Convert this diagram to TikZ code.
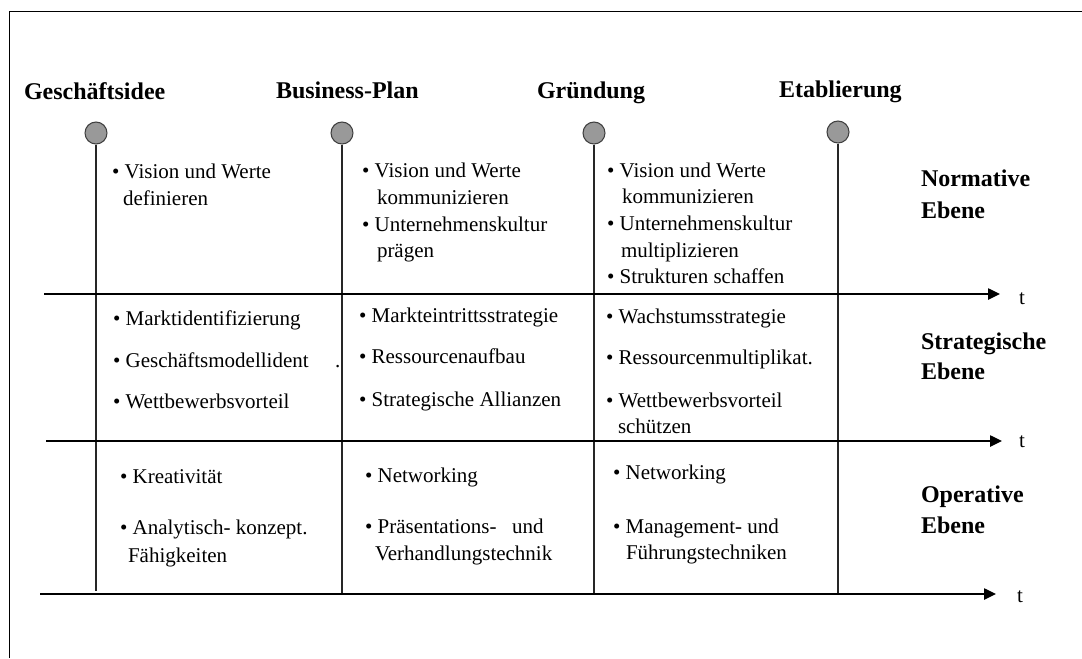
\documentclass[tikz,border=0pt]{standalone}
\usepackage{fontspec}
\setmainfont{Liberation Serif}
\usetikzlibrary{arrows.meta}
\begin{document}
\begin{tikzpicture}[x=0.75pt,y=-0.75pt,
  txt/.style={anchor=base west,inner sep=0pt,outer sep=0pt,font=\fontsize{15.75}{18}\selectfont},
  head/.style={anchor=base west,inner sep=0pt,outer sep=0pt,font=\fontsize{18}{21}\selectfont\bfseries},
  milestone/.style={circle,draw=black!75,fill=black!40,line width=0.8pt,minimum size=16.5pt,inner sep=0pt},
  phase/.style={draw=black!85,line width=0.8pt},
  axis/.style={draw=black,line width=1.1pt,-{Triangle[length=9pt,width=8.5pt]}},
  frame/.style={draw=black,line width=0.75pt}]

\useasboundingbox (0,0) rectangle (1082,658);

% outer frame (top and left edges)
\coordinate (fTL) at (9,11);
\coordinate (fTR) at (1082,11);
\coordinate (fBL) at (9,658);
\draw[frame] (fBL) -- (fTL) -- (fTR);

% milestones
\node[head] (h1) at (24,99) {Geschäftsidee};
\node[head] (h2) at (276,98) {Business-Plan};
\node[head] (h3) at (537,98) {Gründung};
\node[head] (h4) at (779,97) {Etablierung};

\node[milestone] (m1) at (96,133) {};
\node[milestone] (m2) at (342,133) {};
\node[milestone] (m3) at (594,133) {};
\node[milestone] (m4) at (838,132) {};

\coordinate (e1) at (96,591);
\coordinate (e2) at (342,594);
\coordinate (e3) at (594,594);
\coordinate (e4) at (838,594);
\draw[phase] (m1.south) -- (e1);
\draw[phase] (m2.south) -- (e2);
\draw[phase] (m3.south) -- (e3);
\draw[phase] (m4.south) -- (e4);

% time axes
\coordinate (a1s) at (44,294);  \coordinate (a1e) at (1000,294);
\coordinate (a2s) at (46,441);  \coordinate (a2e) at (1002,441);
\coordinate (a3s) at (40,594);  \coordinate (a3e) at (996,594);
\draw[axis] (a1s) -- (a1e);
\draw[axis] (a2s) -- (a2e);
\draw[axis] (a3s) -- (a3e);
\node[txt] (t1) at (1019,304) {t};
\node[txt] (t2) at (1019,447) {t};
\node[txt] (t3) at (1017,602) {t};

% level labels
\node[head] (l1a) at (921,186) {Normative};
\node[head] (l1b) at (921,218) {Ebene};
\node[head] (l2a) at (921,349) {Strategische};
\node[head] (l2b) at (921,379) {Ebene};
\node[head] (l3a) at (921,502) {Operative};
\node[head] (l3b) at (921,533) {Ebene};

% normative level
\node[txt] (n1a) at (112,178) {• Vision und Werte};
\node[txt] (n1b) at (123,205) {definieren};

\node[txt] (n2a) at (362,177) {• Vision und Werte};
\node[txt] (n2b) at (377,204) {kommunizieren};
\node[txt] (n2c) at (362,231) {• Unternehmenskultur};
\node[txt] (n2d) at (377,257) {prägen};

\node[txt] (n3a) at (607,177) {• Vision und Werte};
\node[txt] (n3b) at (622,203) {kommunizieren};
\node[txt] (n3c) at (607,230) {• Unternehmenskultur};
\node[txt] (n3d) at (621,257) {multiplizieren};
\node[txt] (n3e) at (607,283) {• Strukturen schaffen};

% strategic level
\node[txt] (s1a) at (113,325) {• Marktidentifizierung};
\node[txt] (s1b) at (113,367) {• Geschäftsmodellident};
\node[txt] (s1d) at (335,367) {.};
\node[txt] (s1c) at (113,408) {• Wettbewerbsvorteil};

\node[txt] (s2a) at (359,322) {• Markteintrittsstrategie};
\node[txt] (s2b) at (359,363) {• Ressourcenaufbau};
\node[txt] (s2c) at (359,406) {• Strategische Allianzen};

\node[txt] (s3a) at (606,323) {• Wachstumsstrategie};
\node[txt] (s3b) at (606,364) {• Ressourcenmultiplikat.};
\node[txt] (s3c) at (606,407) {• Wettbewerbsvorteil};
\node[txt] (s3d) at (618,433) {schützen};

% operative level
\node[txt] (o1a) at (120,483) {• Kreativität};
\node[txt] (o1b) at (120,534) {• Analytisch- konzept.};
\node[txt] (o1c) at (128,562) {Fähigkeiten};

\node[txt] (o2a) at (365,482) {• Networking};
\node[txt] (o2b) at (365,533) {• Präsentations-};
\node[txt] (o2d) at (512,533) {und};
\node[txt] (o2c) at (375,560) {Verhandlungstechnik};

\node[txt] (o3a) at (613,479) {• Networking};
\node[txt] (o3b) at (613,533) {• Management- und};
\node[txt] (o3c) at (626,559) {Führungstechniken};

\end{tikzpicture}
\end{document}
